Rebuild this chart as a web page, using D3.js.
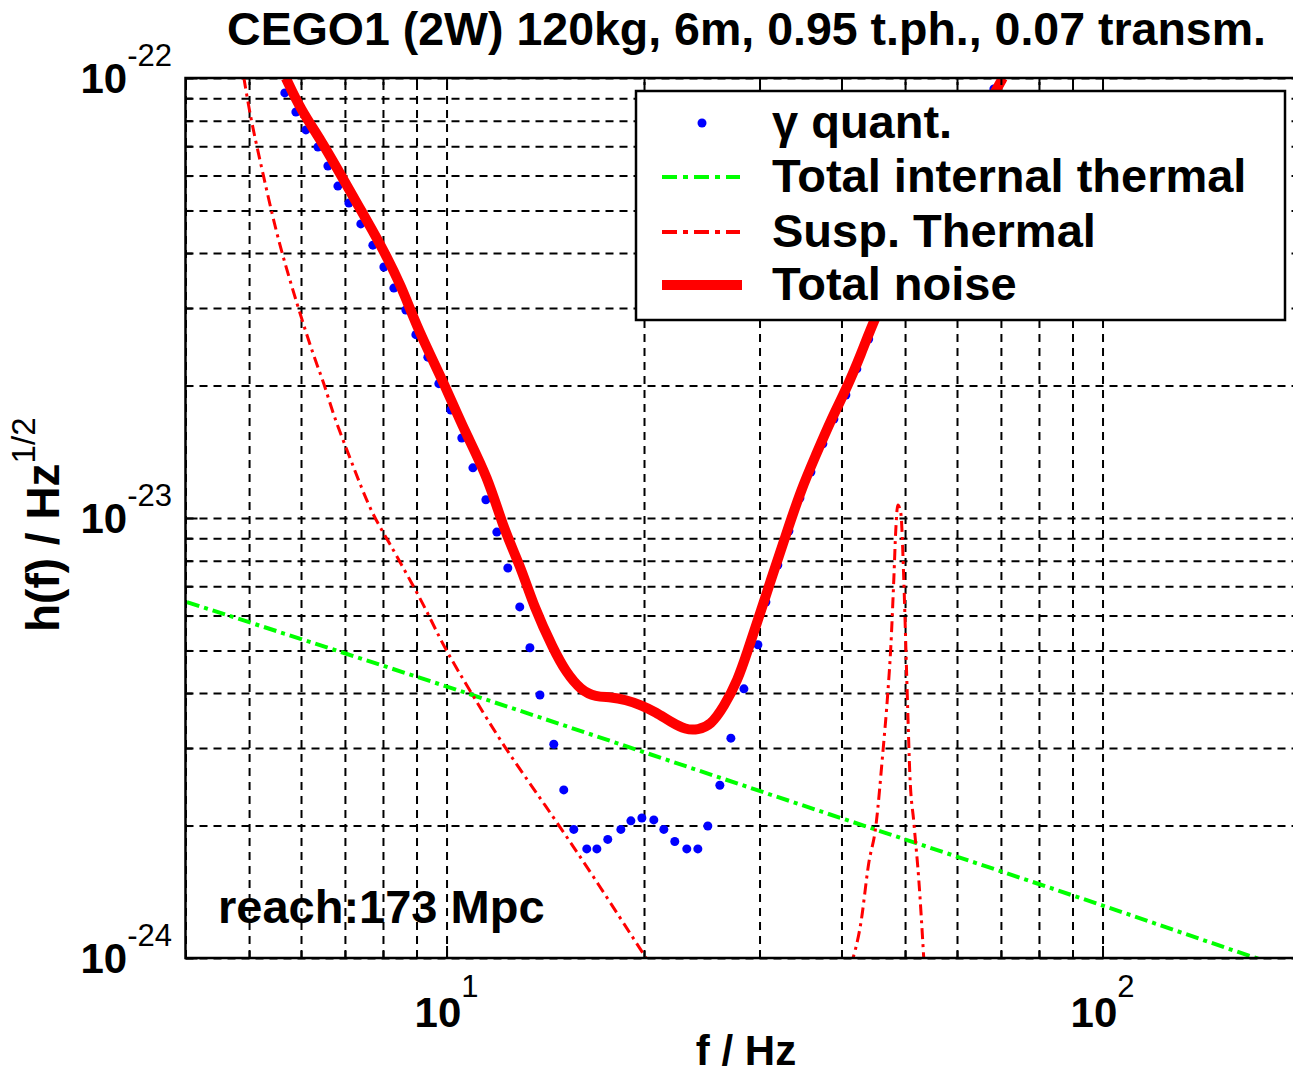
<!DOCTYPE html>
<html>
<head>
<meta charset="utf-8">
<script src="https://cdn.jsdelivr.net/npm/d3@7"></script>
<style>
  body { margin: 0; background: #fff; }
  text { font-family: "Liberation Sans", Arial, Helvetica, sans-serif; font-weight: bold; fill: #000; }
  .sup { font-weight: normal; }
</style>
</head>
<body>
<svg id="chart" width="1293" height="1078"></svg>
<script>
// ---- data (f in Hz, h in 1/sqrt(Hz)) ----
var titleText = "CEGO1 (2W) 120kg, 6m, 0.95 t.ph., 0.07 transm.";
var reachText = "reach:173 Mpc";

var totalF = [5.689, 5.997, 6.434, 6.901, 7.402, 7.940, 8.518, 9.043, 9.906, 10.63, 11.56, 12.23, 12.98, 13.59, 14.57,
  15.20, 16.02, 16.89, 17.80, 18.76, 19.78, 20.85, 21.97, 23.16, 24.16, 25.28, 26.46, 27.80, 28.80, 29.83, 31.22,
  32.91, 34.69, 36.56, 38.54, 40.62, 42.81, 45.12, 50.14, 55.70, 61.89, 68.76, 70.47];
var totalH = [1.00e-22, 8.46e-23, 7.23e-23, 6.02e-23, 5.01e-23, 4.17e-23, 3.39e-23, 2.68e-23, 2.03e-23, 1.585e-23, 1.24e-23,
  9.39e-24, 7.74e-24, 6.28e-24, 5.01e-24, 4.47e-24, 4.06e-24, 3.92e-24, 3.92e-24, 3.86e-24, 3.76e-24, 3.62e-24, 3.44e-24,
  3.30e-24, 3.30e-24, 3.38e-24, 3.72e-24, 4.28e-24, 5.01e-24, 5.86e-24, 7.23e-24, 9.15e-24, 1.158e-23, 1.39e-23, 1.67e-23,
  1.954e-23, 2.35e-23, 2.89e-23, 4.02e-23, 5.42e-23, 7.23e-23, 9.34e-23, 1.00e-22];

var quantF = [5.668, 5.893, 6.104, 6.367, 6.594, 6.829, 7.098, 7.402, 7.721, 8.025, 8.311, 8.669, 8.979, 9.365, 9.733,
  10.15, 10.55, 10.97, 11.48, 11.93, 12.40, 12.93, 13.40, 13.88, 14.57, 15.09, 15.63, 16.36, 16.95, 17.61, 18.44, 19.10,
  19.85, 20.70, 21.44, 22.28, 23.24, 24.16, 25.02, 26.10, 27.13, 28.40, 29.83, 30.68, 31.99, 33.26, 34.57, 35.93, 37.47,
  38.95, 40.62, 42.21, 44.01, 45.76, 47.56, 49.61, 51.57, 53.78, 55.89, 58.08, 60.59, 62.99, 65.47, 68.29];
var quantH = [9.25e-23, 8.37e-23, 7.62e-23, 6.97e-23, 6.31e-23, 5.68e-23, 5.20e-23, 4.66e-23, 4.17e-23, 3.72e-23, 3.33e-23,
  2.97e-23, 2.61e-23, 2.32e-23, 2.02e-23, 1.76e-23, 1.52e-23, 1.30e-23, 1.10e-23, 9.29e-24, 7.70e-24, 6.28e-24, 5.07e-24,
  3.96e-24, 3.06e-24, 2.41e-24, 1.96e-24, 1.77e-24, 1.77e-24, 1.86e-24, 1.96e-24, 2.05e-24, 2.08e-24, 2.06e-24, 1.96e-24,
  1.84e-24, 1.77e-24, 1.77e-24, 1.995e-24, 2.47e-24, 3.16e-24, 4.09e-24, 5.15e-24, 6.44e-24, 7.82e-24, 9.34e-24, 1.110e-23,
  1.272e-23, 1.474e-23, 1.679e-23, 1.904e-23, 2.182e-23, 2.551e-23, 2.97e-23, 3.33e-23, 3.778e-23, 4.239e-23, 4.78e-23,
  5.335e-23, 5.926e-23, 6.65e-23, 7.38e-23, 8.24e-23, 9.44e-23];

// suspension thermal: low frequency branch and the violin peak
var suspF = [4.910, 5.032, 5.248, 5.532, 5.934, 6.278, 6.502, 6.733, 7.073, 7.402, 7.748, 8.139, 8.917, 9.365, 9.906,
  10.89, 12.23, 14.07, 16.77, 20.13, 21.22];
var suspH = [1.00e-22, 8.03e-23, 6.08e-23, 4.28e-23, 3.02e-23, 2.32e-23, 2.03e-23, 1.70e-23, 1.41e-23, 1.18e-23, 1.005e-23,
  8.91e-24, 6.97e-24, 6.08e-24, 5.09e-24, 4.02e-24, 3.02e-24, 2.25e-24, 1.53e-24, 1.00e-24, 8.91e-25];
var peakF = [41.34, 42.81, 44.01, 45.12, 46.24, 47.06, 47.56, 48.06, 48.40, 48.74, 49.26, 49.78, 50.14, 50.49, 50.84,
  51.57, 52.48, 53.41];
var peakH = [9.64e-25, 1.20e-24, 1.64e-24, 1.99e-24, 2.92e-24, 4.00e-24, 5.09e-24, 7.23e-24, 9.39e-24, 1.07e-23, 1.026e-23,
  7.23e-24, 5.09e-24, 3.60e-24, 2.63e-24, 2.03e-24, 1.50e-24, 9.90e-25];

var thermF = [4.02, 10.15, 34.69, 99.41, 171.3, 180.5];
var thermH = [6.44e-24, 4.11e-24, 2.23e-24, 1.32e-24, 1.00e-24, 9.74e-25];

var xTickLabels = [{ v: 10, e: "1" }, { v: 100, e: "2" }];
var yTickLabels = [{ v: 1e-22, e: "-22" }, { v: 1e-23, e: "-23" }, { v: 1e-24, e: "-24" }];
var legendLabels = ["\u03b3 quant.", "Total internal thermal", "Susp. Thermal", "Total noise"];

// ---- layout ----
var svg = d3.select("#chart");
var plot = { left: 185.5, right: 1300, top: 78, bottom: 958 };
var x = d3.scaleLog().domain([4, 200]).range([plot.left, plot.right]);
var y = d3.scaleLog().domain([1e-24, 1e-22]).range([plot.bottom, plot.top]);

function zip(fs, hs) { return fs.map(function(f, i) { return { f: f, h: hs[i] }; }); }
function isMajor(d) { var l = Math.log10(d); return Math.abs(l - Math.round(l)) < 1e-6; }

svg.append("defs").append("clipPath").attr("id", "clip")
  .append("rect")
    .attr("x", plot.left).attr("y", plot.top)
    .attr("width", plot.right - plot.left).attr("height", plot.bottom - plot.top);

// grid (dashed)
var gridX = svg.append("g")
    .attr("transform", "translate(0," + plot.bottom + ")")
    .call(d3.axisBottom(x).tickSize(-(plot.bottom - plot.top)).tickFormat(""));
var gridY = svg.append("g")
    .attr("transform", "translate(" + plot.left + ",0)")
    .call(d3.axisLeft(y).tickSize(-(plot.right - plot.left)).tickFormat(""));
[gridX, gridY].forEach(function(g) {
  g.select(".domain").remove();
  g.selectAll(".tick line")
    .attr("stroke", "#000").attr("stroke-width", 2).attr("stroke-dasharray", "8,6");
});

// curves
function lineWith(curve) {
  return d3.line()
    .x(function(d) { return x(d.f); })
    .y(function(d) { return y(d.h); })
    .curve(curve);
}
var smooth = lineWith(d3.curveBasis);
var sharp = lineWith(d3.curveMonotoneX);

var data = svg.append("g").attr("clip-path", "url(#clip)");

data.append("path").datum(zip(thermF, thermH))
    .attr("d", sharp).attr("fill", "none")
    .attr("stroke", "#00ff00").attr("stroke-width", 4).attr("stroke-dasharray", "13,5,4,5");

data.append("path").datum(zip(suspF, suspH))
    .attr("d", smooth).attr("fill", "none")
    .attr("stroke", "#ff0000").attr("stroke-width", 3).attr("stroke-dasharray", "11,5,3,5");
data.append("path").datum(zip(peakF, peakH))
    .attr("d", sharp).attr("fill", "none")
    .attr("stroke", "#ff0000").attr("stroke-width", 3).attr("stroke-dasharray", "11,5,3,5");

data.selectAll("circle.q")
  .data(zip(quantF, quantH))
  .enter().append("circle")
    .attr("class", "q")
    .attr("cx", function(d) { return x(d.f); })
    .attr("cy", function(d) { return y(d.h); })
    .attr("r", 4.5)
    .attr("fill", "#0000ff");

data.append("path").datum(zip(totalF, totalH))
    .attr("d", smooth).attr("fill", "none")
    .attr("stroke", "#ff0000").attr("stroke-width", 10).attr("stroke-linejoin", "round");

// frame + inward ticks
svg.append("rect")
    .attr("x", plot.left).attr("y", plot.top)
    .attr("width", plot.right - plot.left).attr("height", plot.bottom - plot.top)
    .attr("fill", "none").attr("stroke", "#000").attr("stroke-width", 2.5);

var tb = svg.append("g").attr("transform", "translate(0," + plot.bottom + ")")
    .call(d3.axisBottom(x).tickSize(-7).tickFormat(""));
var tt = svg.append("g").attr("transform", "translate(0," + plot.top + ")")
    .call(d3.axisTop(x).tickSize(-7).tickFormat(""));
var tl = svg.append("g").attr("transform", "translate(" + plot.left + ",0)")
    .call(d3.axisLeft(y).tickSize(-7).tickFormat(""));
[tb, tt, tl].forEach(function(g) {
  g.select(".domain").remove();
  g.selectAll(".tick line").attr("stroke", "#000").attr("stroke-width", 2);
});
tb.selectAll(".tick line").filter(isMajor).attr("y2", -12);
tt.selectAll(".tick line").filter(isMajor).attr("y2", 12);
tl.selectAll(".tick line").filter(isMajor).attr("x2", 12);

// tick labels 10^n
xTickLabels.forEach(function(t) {
  var txt = svg.append("text")
      .attr("x", x(t.v)).attr("y", 1027)
      .attr("text-anchor", "middle").style("font-size", "42px");
  txt.append("tspan").text("10");
  txt.append("tspan").attr("class", "sup").attr("dy", -30).style("font-size", "31px").text(t.e);
});
yTickLabels.forEach(function(t) {
  var txt = svg.append("text")
      .attr("x", 172).attr("y", y(t.v) + 15)
      .attr("text-anchor", "end").style("font-size", "42px");
  txt.append("tspan").text("10");
  txt.append("tspan").attr("class", "sup").attr("dy", -27).style("font-size", "31px").text(t.e);
});

// titles
svg.append("text")
    .attr("x", 746.5).attr("y", 45)
    .attr("text-anchor", "middle").style("font-size", "46.5px")
    .text(titleText);

svg.append("text")
    .attr("x", 746).attr("y", 1065)
    .attr("text-anchor", "middle").style("font-size", "42px")
    .text("f / Hz");

var ylab = svg.append("text")
    .attr("transform", "translate(59,632) rotate(-90)")
    .style("font-size", "46px");
ylab.append("tspan").text("h(f) / Hz");
ylab.append("tspan").attr("class", "sup").attr("dy", -24).style("font-size", "33px").text("1/2");

svg.append("text")
    .attr("x", 218).attr("y", 923)
    .style("font-size", "47px")
    .text(reachText);

// legend
var leg = svg.append("g");
leg.append("rect")
    .attr("x", 636).attr("y", 91).attr("width", 649).attr("height", 229)
    .attr("fill", "#fff").attr("stroke", "#000").attr("stroke-width", 2.5);

var rowY = [123, 177, 232, 285];
leg.append("circle").attr("cx", 702).attr("cy", rowY[0]).attr("r", 4.5).attr("fill", "#0000ff");
leg.append("line").attr("x1", 662).attr("x2", 740).attr("y1", rowY[1]).attr("y2", rowY[1])
    .attr("stroke", "#00ff00").attr("stroke-width", 4).attr("stroke-dasharray", "15,6,5,6");
leg.append("line").attr("x1", 662).attr("x2", 740).attr("y1", rowY[2]).attr("y2", rowY[2])
    .attr("stroke", "#ff0000").attr("stroke-width", 4).attr("stroke-dasharray", "15,6,5,6");
leg.append("line").attr("x1", 662).attr("x2", 742).attr("y1", rowY[3]).attr("y2", rowY[3])
    .attr("stroke", "#ff0000").attr("stroke-width", 10);

leg.selectAll("text.lab")
  .data(legendLabels)
  .enter().append("text")
    .attr("class", "lab")
    .attr("x", 772)
    .attr("y", function(d, i) { return rowY[i] + 15; })
    .style("font-size", "47px")
    .text(function(d) { return d; });
</script>
</body>
</html>
